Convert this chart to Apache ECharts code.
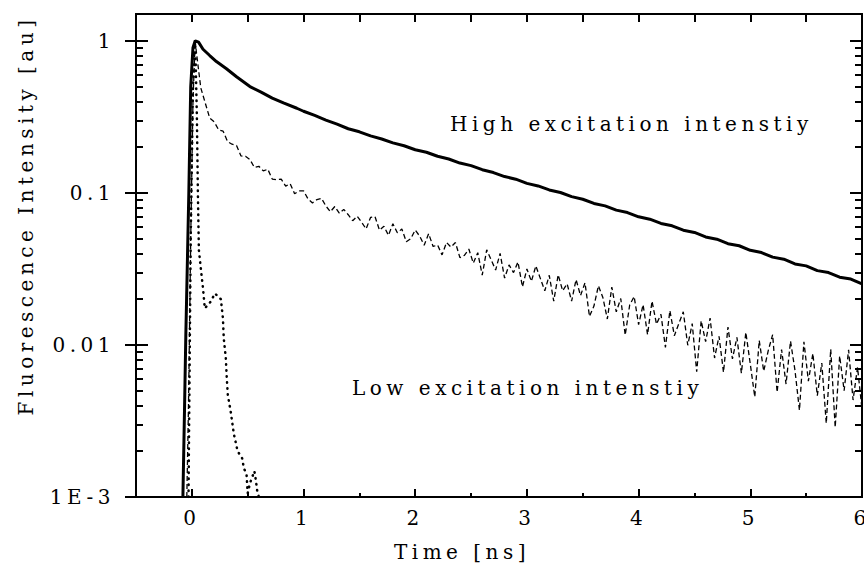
<!DOCTYPE html>
<html>
<head>
<meta charset="utf-8">
<script src="https://cdn.jsdelivr.net/npm/echarts@6.0.0/dist/echarts.min.js"></script>
<style>
    body { margin: 0; background: #fff; }
    #chart { width: 864px; height: 569px; }
    /* wide letter spacing like the original plot */
    #chart svg text { letter-spacing: 4.5px !important; }
</style>
</head>
<body>
<div id="chart"></div>
<script>
// tick positions
var xMajorTicks = [0, 1, 2, 3, 4, 5, 6];
var decadeTicks = [0.001, 0.01, 0.1, 1];
var minorTicks = [0.002, 0.003, 0.004, 0.005, 0.006, 0.007, 0.008, 0.009,
    0.02, 0.03, 0.04, 0.05, 0.06, 0.07, 0.08, 0.09,
    0.2, 0.3, 0.4, 0.5, 0.6, 0.7, 0.8, 0.9];

// high excitation intensity (solid)
var highData = [
    [-0.08, 0.001], [-0.065, 0.004], [-0.054, 0.0115], [-0.027, 0.1], [-0.01, 0.5], [0.01, 0.9],
    [0.03, 1.0], [0.06, 0.98], [0.1, 0.88], [0.16, 0.80], [0.22, 0.73], [0.31, 0.655],
    [0.4, 0.58], [0.52, 0.50], [0.62, 0.46], [0.72, 0.42], [0.82, 0.39], [0.94, 0.36],
    [1.0, 0.344], [1.1, 0.323], [1.2, 0.301], [1.3, 0.283], [1.4, 0.264], [1.5, 0.252],
    [1.6, 0.237], [1.7, 0.226], [1.8, 0.213], [1.9, 0.204], [2.0, 0.192], [2.1, 0.185],
    [2.2, 0.174], [2.3, 0.167], [2.4, 0.157], [2.5, 0.151], [2.6, 0.142], [2.7, 0.136],
    [2.8, 0.128], [2.9, 0.123], [3.0, 0.1155], [3.1, 0.111], [3.2, 0.1045], [3.3, 0.1005],
    [3.4, 0.0945], [3.5, 0.0908], [3.6, 0.0852], [3.7, 0.0821], [3.8, 0.0770], [3.9, 0.0742],
    [4.0, 0.0696], [4.1, 0.0671], [4.2, 0.0629], [4.3, 0.0607], [4.4, 0.0568], [4.5, 0.0549],
    [4.6, 0.0513], [4.7, 0.0496], [4.8, 0.0463], [4.9, 0.0449], [5.0, 0.0419], [5.1, 0.0405],
    [5.2, 0.0378], [5.3, 0.0366], [5.4, 0.0341], [5.5, 0.0331], [5.6, 0.0308], [5.7, 0.0299],
    [5.8, 0.0279], [5.9, 0.0271], [6.0, 0.0252]
];

// low excitation intensity (dashed, noisy)
var lowData = [
    [-0.045, 0.001], [-0.03, 0.004], [-0.01, 0.05], [0.01, 0.4], [0.03, 1.0],
    [0.04, 0.85], [0.08, 0.49], [0.12, 0.39], [0.16, 0.31], [0.20, 0.293], [0.24, 0.2595],
    [0.28, 0.2544], [0.32, 0.2173], [0.36, 0.2088], [0.40, 0.2051], [0.44, 0.1748], [0.48, 0.1741],
    [0.52, 0.1656], [0.56, 0.1469], [0.60, 0.1495], [0.64, 0.1394], [0.68, 0.1430], [0.72, 0.1232],
    [0.76, 0.1219], [0.80, 0.1232], [0.84, 0.1108], [0.88, 0.1148], [0.92, 0.0987], [0.96, 0.1030],
    [1.00, 0.1031], [1.04, 0.0912], [1.08, 0.0859], [1.12, 0.0904], [1.16, 0.0921], [1.20, 0.0820],
    [1.24, 0.0751], [1.28, 0.0813], [1.32, 0.0735], [1.36, 0.0778], [1.40, 0.0718], [1.44, 0.0656],
    [1.48, 0.0702], [1.52, 0.0641], [1.56, 0.0579], [1.60, 0.0689], [1.64, 0.0698], [1.68, 0.0568],
    [1.72, 0.0603], [1.76, 0.0526], [1.80, 0.0626], [1.84, 0.0546], [1.88, 0.0579], [1.92, 0.0477],
    [1.96, 0.0500], [2.00, 0.0569], [2.04, 0.0519], [2.08, 0.0453], [2.12, 0.0539], [2.16, 0.0444],
    [2.20, 0.0454], [2.24, 0.0391], [2.28, 0.0472], [2.32, 0.0440], [2.36, 0.0471], [2.40, 0.0375],
    [2.44, 0.0388], [2.48, 0.0427], [2.52, 0.0345], [2.56, 0.0404], [2.60, 0.0288], [2.64, 0.0422],
    [2.68, 0.0362], [2.72, 0.0311], [2.76, 0.0400], [2.80, 0.0275], [2.84, 0.0336], [2.88, 0.0299],
    [2.92, 0.0351], [2.96, 0.0241], [3.00, 0.0316], [3.04, 0.0262], [3.08, 0.0331], [3.12, 0.0274],
    [3.16, 0.0227], [3.20, 0.0287], [3.24, 0.0194], [3.28, 0.0289], [3.32, 0.0227], [3.36, 0.0252],
    [3.40, 0.0194], [3.44, 0.0269], [3.48, 0.0211], [3.52, 0.0256], [3.56, 0.0154], [3.60, 0.0180],
    [3.64, 0.0245], [3.68, 0.0205], [3.72, 0.0148], [3.76, 0.0240], [3.80, 0.0165], [3.84, 0.0202],
    [3.88, 0.0116], [3.92, 0.0183], [3.96, 0.0208], [4.00, 0.0136], [4.04, 0.0184], [4.08, 0.0117],
    [4.12, 0.0194], [4.16, 0.0137], [4.20, 0.0159], [4.24, 0.00964], [4.28, 0.0168], [4.32, 0.0115],
    [4.36, 0.0138], [4.40, 0.0165], [4.44, 0.00995], [4.48, 0.0138], [4.52, 0.00666], [4.56, 0.0144],
    [4.60, 0.0105], [4.64, 0.0150], [4.68, 0.0082], [4.72, 0.0114], [4.76, 0.00661], [4.80, 0.0131],
    [4.84, 0.00809], [4.88, 0.0112], [4.92, 0.00652], [4.96, 0.0121], [5.00, 0.00747], [5.04, 0.00455],
    [5.08, 0.0107], [5.12, 0.00672], [5.16, 0.00913], [5.20, 0.0117], [5.24, 0.00488], [5.28, 0.00933],
    [5.32, 0.00553], [5.36, 0.0106], [5.40, 0.0068], [5.44, 0.00372], [5.48, 0.0105], [5.52, 0.00578],
    [5.56, 0.00879], [5.60, 0.00464], [5.64, 0.0076], [5.68, 0.00305], [5.72, 0.00937], [5.76, 0.00287],
    [5.80, 0.00846], [5.84, 0.00501], [5.88, 0.00927], [5.92, 0.00434], [5.96, 0.00713], [6.00, 0.00377]
];

// instrument response (dotted)
var irfData = [
    [-0.03, 0.001], [-0.01, 0.05], [0.01, 0.5], [0.03, 1.0], [0.045, 0.32], [0.054, 0.1],
    [0.063, 0.042], [0.08, 0.032], [0.10, 0.0235], [0.116, 0.0174], [0.17, 0.0193], [0.206, 0.0218],
    [0.26, 0.020], [0.278, 0.015], [0.286, 0.011], [0.304, 0.0082], [0.313, 0.006], [0.322, 0.0047],
    [0.349, 0.0036], [0.376, 0.0026], [0.41, 0.0020], [0.45, 0.0018], [0.466, 0.00155], [0.49, 0.0014],
    [0.50, 0.00106], [0.52, 0.00123], [0.56, 0.00148], [0.573, 0.00129], [0.585, 0.0011], [0.60, 0.001]
];

var FONT = 'DejaVu Serif';
var BLACK = {color: '#000', width: 2};

// labels must stay on or the ticks are dropped, so the extra axes get empty ones
function emptyLabel() {
    return {show: true, formatter: function () { return ''; }};
}

// one log y axis; several are stacked to get ticks on both sides of the frame
function yAxisOf(pos, ticks, tickLen, inside) {
    var label = emptyLabel();
    label.customValues = decadeTicks;
    return {
        type: 'log',
        logBase: 10,
        min: 0.001,
        max: 1.5,
        position: pos,
        axisLine: {show: true, onZero: false, lineStyle: BLACK},
        axisTick: {show: true, inside: inside, length: tickLen, customValues: ticks, lineStyle: BLACK},
        axisLabel: label,
        splitLine: {show: false}
    };
}

// x axis over the same range
function xAxisOf(pos, interval, ticks, tickLen) {
    var axis = {
        type: 'value',
        position: pos,
        min: -0.5,
        max: 6,
        axisLine: {show: true, onZero: false, lineStyle: BLACK},
        axisTick: {show: true, inside: true, length: tickLen, lineStyle: BLACK},
        axisLabel: emptyLabel(),
        splitLine: {show: false}
    };
    if (interval) axis.interval = interval;
    if (ticks) axis.axisTick.customValues = ticks;
    return axis;
}

var chart = echarts.init(document.getElementById('chart'), null, {renderer: 'svg'});

var yAxes = [
    yAxisOf('left', decadeTicks, 11, false),
    yAxisOf('left', decadeTicks, 12, true),
    yAxisOf('left', minorTicks, 7, true),
    yAxisOf('right', decadeTicks, 12, true),
    yAxisOf('right', minorTicks, 7, true)
];
yAxes[0].name = 'Fluorescence Intensity [au]';
yAxes[0].nameLocation = 'middle';
yAxes[0].nameGap = 100;
yAxes[0].nameTextStyle = {color: '#000', fontFamily: FONT, fontSize: 20, padding: [0, 0, 0, 80]};
yAxes[0].axisLabel = {
    show: true, customValues: decadeTicks, margin: 21,
    color: '#000', fontFamily: FONT, fontSize: 20,
    formatter: function (v) {
        return v < 0.005 ? '1E-3' : String(v);
    }
};

var xAxes = [
    xAxisOf('bottom', 0.5, null, 4),
    xAxisOf('bottom', null, xMajorTicks, 8),
    xAxisOf('top', 0.5, null, 8)
];
xAxes[0].name = 'Time [ns]';
xAxes[0].nameLocation = 'middle';
xAxes[0].nameGap = 45;
xAxes[0].nameTextStyle = {color: '#000', fontFamily: FONT, fontSize: 20, padding: [0, 74, 0, 0]};
xAxes[0].axisLabel = {show: true, color: '#000', fontFamily: FONT, fontSize: 20, margin: 11,
    customValues: xMajorTicks};

var option = {
    animation: false,
    backgroundColor: '#fff',
    grid: {left: 136, right: 2, top: 14, bottom: 72, outerBoundsMode: 'none'},
    xAxis: xAxes,
    yAxis: yAxes,
    graphic: [{
        type: 'text',
        x: 450,
        y: 124,
        style: {text: 'High excitation intenstiy', fill: '#000', fontFamily: FONT, fontSize: 20,
            align: 'left', verticalAlign: 'middle'}
    }, {
        type: 'text',
        x: 352,
        y: 388,
        style: {text: 'Low excitation intenstiy', fill: '#000', fontFamily: FONT, fontSize: 20,
            align: 'left', verticalAlign: 'middle'}
    }],
    series: [{
        name: 'irf',
        type: 'line',
        showSymbol: false,
        lineStyle: {color: '#000', width: 2.5, type: [0.5, 5.5], cap: 'round'},
        data: irfData
    }, {
        name: 'low',
        type: 'line',
        showSymbol: false,
        lineStyle: {color: '#000', width: 1.3, type: [5, 3]},
        data: lowData
    }, {
        name: 'high',
        type: 'line',
        showSymbol: false,
        lineStyle: {color: '#000', width: 3},
        data: highData
    }]
};
chart.setOption(option);
</script>
</body>
</html>
